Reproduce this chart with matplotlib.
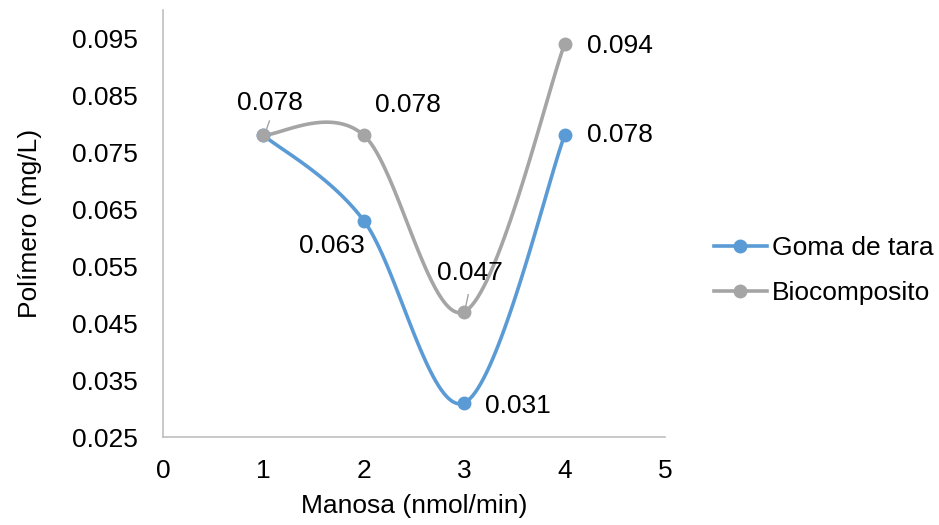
import numpy as np
import matplotlib
matplotlib.use("Agg")
import matplotlib.pyplot as plt
from matplotlib.lines import Line2D

plt.rcParams['font.family'] = ['Liberation Sans', 'DejaVu Sans']

x = [1, 2, 3, 4]
goma = [0.078, 0.063, 0.031, 0.078]
bio = [0.078, 0.078, 0.047, 0.094]
names = ["Goma de tara", "Biocomposito"]
colors = ["#5b9bd5", "#a5a5a5"]


def smooth(xs, ys, n=40):
    # excel-like smoothed line: cubic bezier through points
    px = np.array(xs, float); py = np.array(ys, float)
    outx = []; outy = []
    for i in range(len(px) - 1):
        i0 = max(i - 1, 0); i3 = min(i + 2, len(px) - 1)
        c1x = px[i] + (px[i + 1] - px[i0]) / 6
        c1y = py[i] + (py[i + 1] - py[i0]) / 6
        c2x = px[i + 1] - (px[i3] - px[i]) / 6
        c2y = py[i + 1] - (py[i3] - py[i]) / 6
        t = np.linspace(0, 1, n)
        bx = (1-t)**3*px[i] + 3*(1-t)**2*t*c1x + 3*(1-t)*t**2*c2x + t**3*px[i+1]
        by = (1-t)**3*py[i] + 3*(1-t)**2*t*c1y + 3*(1-t)*t**2*c2y + t**3*py[i+1]
        outx.extend(bx); outy.extend(by)
    return outx, outy


fig = plt.figure(figsize=(9.39, 5.25), dpi=100)
ax = fig.add_axes([0.1736, 0.1676, 0.5346, 0.8134])

for ys, c in zip([goma, bio], colors):
    sx, sy = smooth(x, ys)
    ax.plot(sx, sy, color=c, lw=2.6, solid_capstyle='round', zorder=2)
    ax.plot(x, ys, 'o', color=c, ms=9, zorder=3)

fs = 19
# data labels (offsets in points)
lab_goma = [None, (-23, -18), (39, -2), (40, 0)]
lab_bio = [(5, 23), (32, 22), (4, 28), (40, -1)]
for ys, offs in zip([goma, bio], [lab_goma, lab_bio]):
    for xi, yi, off in zip(x, ys, offs):
        if off is None:
            continue
        ax.annotate("%.3f" % yi, (xi, yi), xytext=off, textcoords='offset points',
                    ha='center', va='center', fontsize=fs)
# leader lines
ax.plot([1.02, 1.06], [0.0785, 0.0805], color='#a5a5a5', lw=1)
ax.plot([3.01, 3.04], [0.0475, 0.0500], color='#a5a5a5', lw=1)

ax.set_xlim(0, 5)
ax.set_ylim(0.025, 0.1)
ax.set_xticks(range(6))
ax.set_yticks(np.arange(0.025, 0.0951, 0.01))
ax.set_yticklabels(["%.3f" % v for v in np.arange(0.025, 0.0951, 0.01)])
ax.tick_params(length=0, labelsize=fs, pad=18)
ax.tick_params(axis='x', pad=16)
for s in ['top', 'right']:
    ax.spines[s].set_visible(False)
for s in ['left', 'bottom']:
    ax.spines[s].set_color('#bfbfbf')
    ax.spines[s].set_linewidth(1.2)
ax.set_xlabel("Manosa (nmol/min)", fontsize=fs, labelpad=8)
ax.set_ylabel("Polímero (mg/L)", fontsize=fs, labelpad=22)

handles = [Line2D([], [], color=c, lw=2.6, marker='o', ms=9) for c in colors]
fig.legend(handles, names, loc='center left', bbox_to_anchor=(0.735, 0.485),
           frameon=False, fontsize=fs, handlelength=2.0, handletextpad=0.2,
           labelspacing=0.8)

fig.savefig("out.png", dpi=100)
